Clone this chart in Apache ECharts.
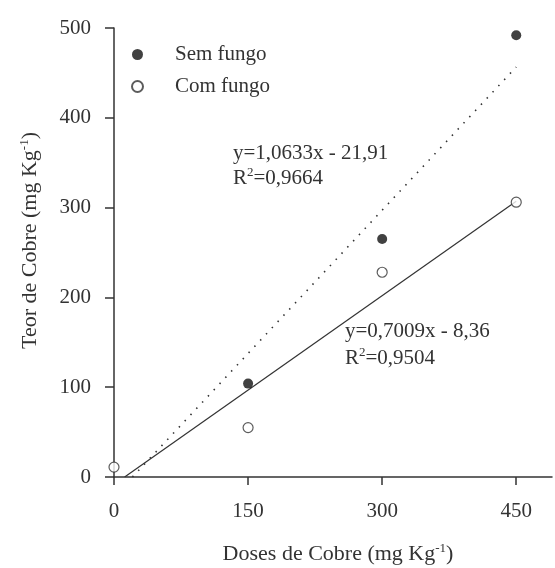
<!DOCTYPE html>
<html>
<head>
<meta charset="utf-8">
<script src="https://cdn.jsdelivr.net/npm/echarts@6/dist/echarts.min.js"></script>
<style>
	html, body { margin: 0; padding: 0; background: #fff; }
	#chart { width: 555px; height: 568px; }
</style>
</head>
<body>
<div id="chart"></div>
<script>
	// doses (mg Kg-1) and measured copper content
	var doses = [0, 150, 300, 450];
	var semFungo = [11, 104, 265, 492];
	var comFungo = [11, 55, 228, 306];
	// regression lines, endpoints
	var semLine = [[20.6, 0], [450, 456.6]];
	var comLine = [[11.9, 0], [450, 307]];
	var xTicks = [0, 150, 300, 450];

	var FONT = 'Liberation Serif';
	var INK = '#333';

	function pairs(xs, ys) {
		var out = [];
		for (var i = 0; i < xs.length; i++) out.push([xs[i], ys[i]]);
		return out;
	}

	var sup = { fontSize: 13, lineHeight: 12, verticalAlign: 'top', fontFamily: FONT, color: INK, fill: INK };
	var main = { fontSize: 22, lineHeight: 24, fontFamily: FONT, color: INK, fill: INK };
	var eqMain = { fontSize: 21, lineHeight: 24, fontFamily: FONT, color: INK, fill: INK };

	var chart = echarts.init(document.getElementById('chart'), null, { renderer: 'canvas' });

	var option = {
		animation: false,
		backgroundColor: '#fff',
		textStyle: { fontFamily: FONT, color: INK },
		grid: { left: 114, right: 3, top: 28, bottom: 91, containLabel: false, outerBoundsMode: 'none' },
		legend: {
			orient: 'vertical',
			left: 126,
			top: 39,
			itemWidth: 11,
			itemHeight: 11,
			itemGap: 11,
			data: ['Sem fungo', 'Com fungo'],
			textStyle: { fontFamily: FONT, fontSize: 21, color: INK, padding: [0, 0, 0, 27] }
		},
		xAxis: {
			type: 'value',
			min: 0,
			max: 490,
			splitLine: { show: false },
			axisLine: { onZero: false, lineStyle: { color: INK, width: 1.5 } },
			axisTick: { length: 8, customValues: xTicks, lineStyle: { color: INK, width: 1.5 } },
			axisLabel: { customValues: xTicks, margin: 24, fontFamily: FONT, fontSize: 21, color: INK },
			name: '{m|Doses de Cobre (mg Kg}{s|-1}{m|)}',
			nameLocation: 'middle',
			nameGap: 65,
			nameTextStyle: { padding: [0, 0, 0, 10], rich: { m: main, s: sup } }
		},
		yAxis: {
			type: 'value',
			min: 0,
			max: 500,
			interval: 100,
			splitLine: { show: false },
			axisLine: { onZero: false, lineStyle: { color: INK, width: 1.5 } },
			axisTick: { length: 9, lineStyle: { color: INK, width: 1.5 } },
			axisLabel: { margin: 23, fontFamily: FONT, fontSize: 21, color: INK },
			name: '{m|Teor de Cobre (mg Kg}{s|-1}{m|)}',
			nameLocation: 'middle',
			nameRotate: 90,
			nameGap: 72,
			nameTextStyle: { padding: [0, 0, 0, 24], rich: { m: main, s: sup } }
		},
		graphic: [
			{ type: 'text', left: 233, top: 143, style: { text: 'y=1,0633x - 21,91', font: '21px "Liberation Serif"', fill: INK } },
			{ type: 'text', left: 233, top: 166, style: { text: '{m|R}{s|2}{m|=0,9664}', fill: INK, rich: { m: eqMain, s: sup } } },
			{ type: 'text', left: 345, top: 321, style: { text: 'y=0,7009x - 8,36', font: '21px "Liberation Serif"', fill: INK } },
			{ type: 'text', left: 345, top: 346, style: { text: '{m|R}{s|2}{m|=0,9504}', fill: INK, rich: { m: eqMain, s: sup } } }
		],
		series: [
			{
				name: 'semTrend',
				type: 'line',
				data: semLine,
				symbol: 'none',
				silent: true,
				lineStyle: { color: INK, width: 1.6, type: [1.5, 7] },
				z: 1
			},
			{
				name: 'comTrend',
				type: 'line',
				data: comLine,
				symbol: 'none',
				silent: true,
				lineStyle: { color: INK, width: 1.2 },
				z: 1
			},
			{
				name: 'Sem fungo',
				type: 'scatter',
				data: pairs(doses, semFungo).slice(1),
				symbol: 'circle',
				symbolSize: 10,
				itemStyle: { color: '#111' },
				z: 3
			},
			{
				name: 'Com fungo',
				type: 'scatter',
				data: pairs(doses, comFungo),
				symbol: 'circle',
				symbolSize: 10,
				itemStyle: { color: '#fff', borderColor: INK, borderWidth: 1.2 },
				z: 4
			}
		]
	};

	chart.setOption(option);
</script>
</body>
</html>
